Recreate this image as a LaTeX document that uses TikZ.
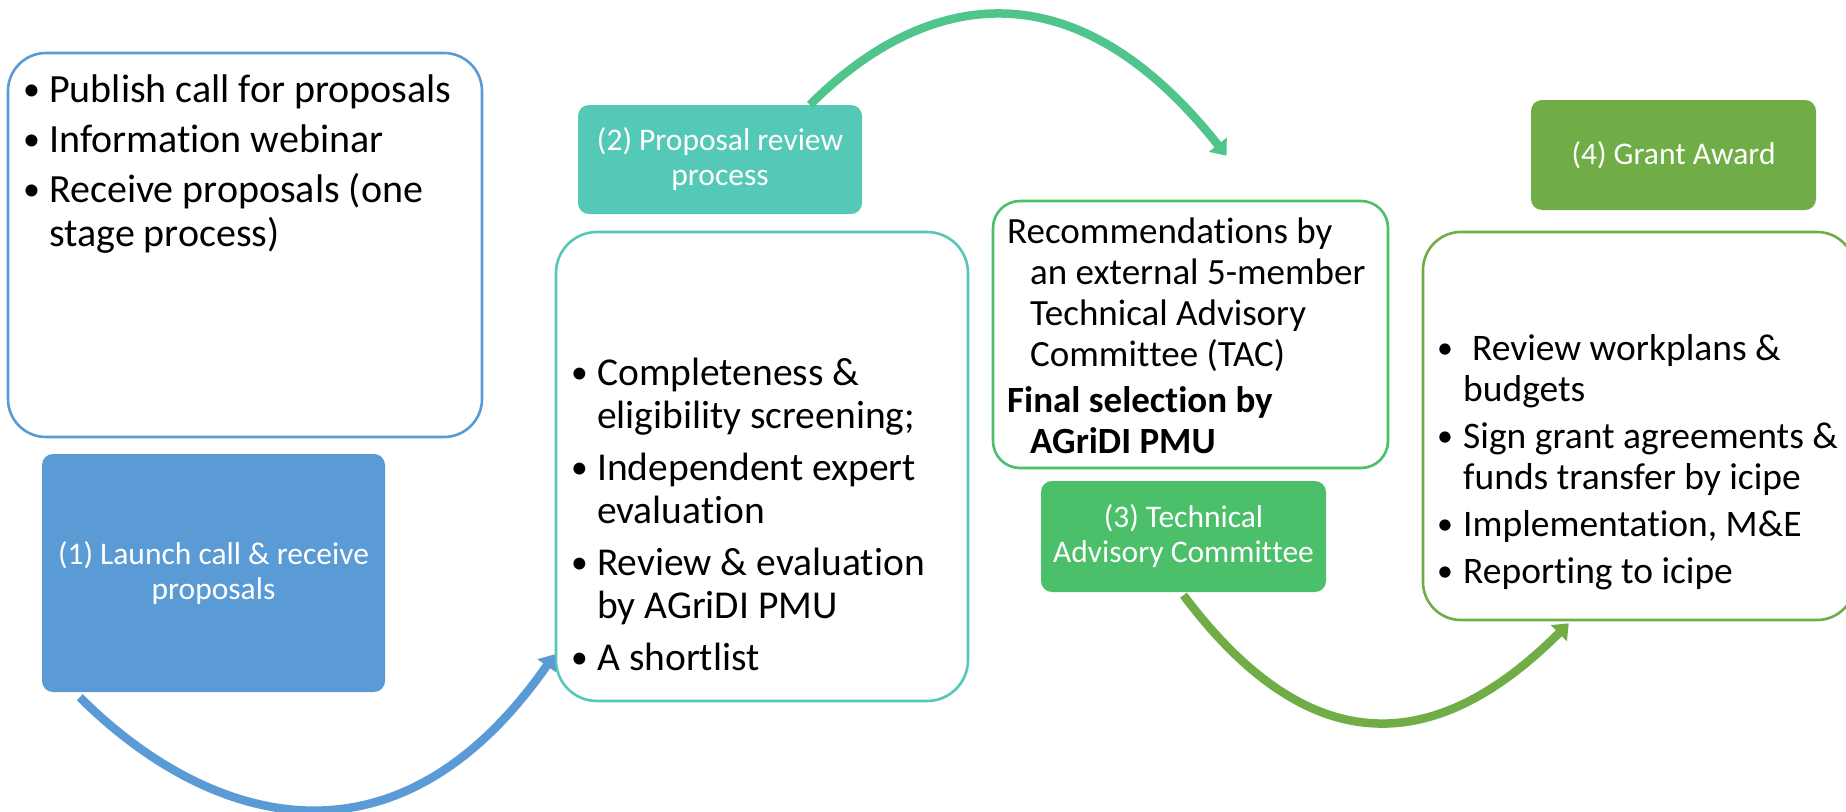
\documentclass[tikz,border=0pt]{standalone}
\usepackage{fontspec}
\setmainfont{Carlito}[RawFeature=-liga,RawFeature=-clig,RawFeature=-calt,RawFeature=-dlig]
\usetikzlibrary{arrows.meta,calc}
\definecolor{blueC}{HTML}{5B9BD5}
\definecolor{tealC}{HTML}{55C9B7}
\definecolor{mintC}{HTML}{4FC58C}
\definecolor{greenC}{HTML}{4BBF69}
\definecolor{oliveC}{HTML}{70AD47}
\newcommand{\bul}{\makebox[28pt][l]{\hspace*{2pt}\raisebox{0.04em}{\scalebox{0.85}{•}}}}
\newcommand{\ind}{\hspace*{28pt}}
\newcommand{\nl}{\kern0pt{}}
\begin{document}
\begin{tikzpicture}[x=1pt,y=-1pt,
  wbox/.style={draw,line width=2.6pt,fill=white,rounded corners=#1,inner sep=0pt},
  lbox/.style={fill=#1,rounded corners=11pt,inner sep=0pt,text=white,align=center,
    font=\fontsize{31.5pt}{35pt}\selectfont},
  txt/.style={anchor=base west,inner sep=0pt},
  arr/.style={line width=8.5pt,-{Triangle[length=14pt,width=22pt]}}]
\useasboundingbox (0,0) rectangle (1846,811);
\fill[white] (0,0) rectangle (1846,811);

% white boxes
\node[wbox=38pt,draw=blueC,minimum width=474pt,minimum height=384pt] (ba) at (245,245) {};
\node[wbox=41pt,draw=tealC,minimum width=412pt,minimum height=469pt] (b2) at (762,466.5) {};
\node[wbox=27pt,draw=greenC,minimum width=395pt,minimum height=267pt] (b3) at (1190.5,334.5) {};
\node[wbox=38pt,draw=oliveC,minimum width=432pt,minimum height=388pt] (b4) at (1639,426) {};

% labels
\node[lbox=blueC,minimum width=343pt,minimum height=238pt] (b1) at (213.5,573) {(1) Launch call \& receive\\proposals};
\node[lbox=tealC,minimum width=284pt,minimum height=109pt] (l2) at (720,159.5) {(2) Proposal review\\process};
\node[lbox=greenC,minimum width=285pt,minimum height=111pt] (l3) at (1183.5,536.5) {(3) Technical\\Advisory Commit\nl tee};
\node[lbox=oliveC,minimum width=285pt,minimum height=110pt] (l4) at (1673.5,155) {(4) Grant Award};

% texts
\node[txt] (ta) at (21,102) {\parbox[t]{460pt}{\setlength\parindent{0pt}\fontsize{40pt}{44pt}\selectfont
\bul Publish call for proposals\\[6pt]
\bul Informat\nl ion webinar\\[6pt]
\bul Receive proposals (one\\
\ind stage process)}};

\node[txt] (t2) at (569,385) {\parbox[t]{390pt}{\setlength\parindent{0pt}\fontsize{39.5pt}{43pt}\selectfont
\bul Completeness \&\\
\ind eligibility screening;\\[9pt]
\bul Independent expert\\
\ind evaluat\nl ion\\[9pt]
\bul Review \& evaluat\nl ion\\
\ind by AGriDI PMU\\[9pt]
\bul A shortlist}};

\node[txt] (t3) at (1007,243) {\parbox[t]{380pt}{\setlength\parindent{0pt}\fontsize{37pt}{41pt}\selectfont
Recommendat\nl ions by\\
\hspace*{23pt}an external 5-member\\
\hspace*{23pt}Technical Advisory\\
\hspace*{23pt}Commit\nl tee (TAC)\\[5pt]
\textbf{Final select\nl ion by}\\
\hspace*{23pt}\textbf{AGriDI PMU}}};

\node[txt] (t4) at (1435,360) {\parbox[t]{410pt}{\setlength\parindent{0pt}\fontsize{37.5pt}{41pt}\selectfont
\bul\hspace*{9pt}Review workplans \&\\
\ind budgets\\[6pt]
\bul Sign grant agreements \&\\
\ind funds transfer by icipe\\[6pt]
\bul Implementat\nl ion, M\&E\\[6pt]
\bul Reporting to icipe}};

% connector end points
\coordinate (s1) at ($(b1.south west)+(38,5)$);
\coordinate (e1) at ($(b2.south west)+(0,-48)$);
\coordinate (s2) at ($(l2.north)+(90,0)$);
\coordinate (e2) at ($(b3.north)+(36,-44)$);
\coordinate (s3) at ($(l3.south)+(0,3)$);
\coordinate (e3) at ($(b4.south west)+(147,2)$);

\draw[arr,blueC] (s1) .. controls +(120,120) and +(-164,235) .. (e1);
\draw[arr,mintC] (s2) .. controls +(106,-106) and +(-160,-202) .. (e2);
\draw[arr,oliveC] (s3) .. controls +(108,144) and +(-153,153) .. (e3);
\end{tikzpicture}
\end{document}
